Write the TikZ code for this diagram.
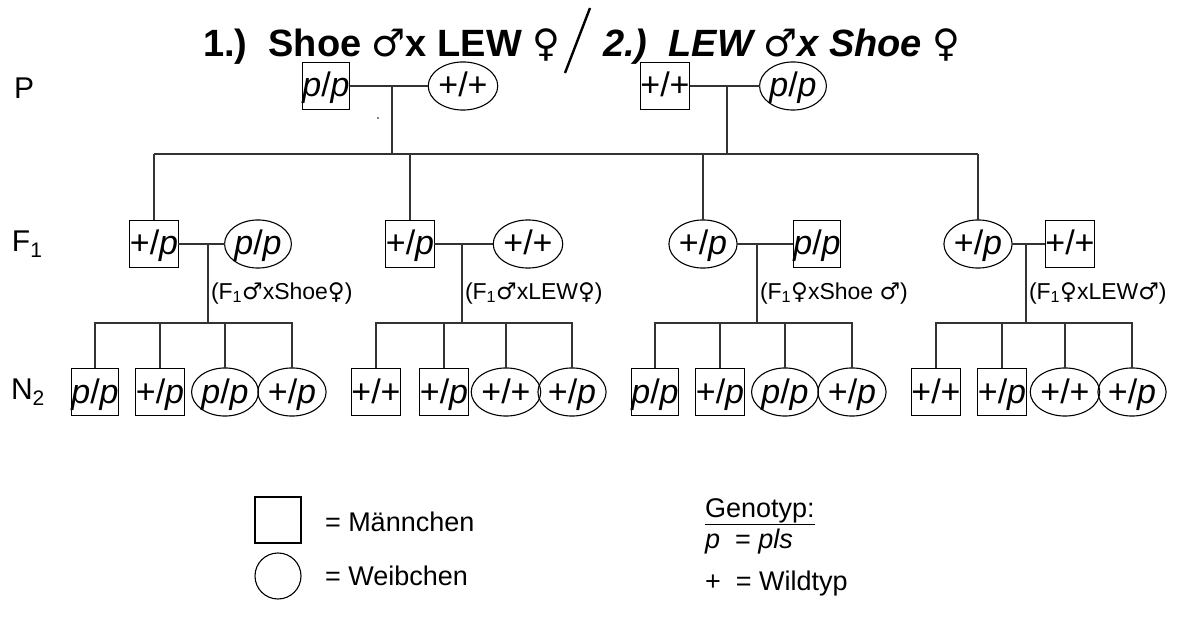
\documentclass[tikz,border=0pt]{standalone}
\usepackage{fontspec}
\setmainfont{Liberation Sans}
\newfontfamily\symfont{DejaVu Sans}
\usetikzlibrary{shapes.geometric}
% sex symbols and genotype shorthands
\newcommand{\symM}{{\symfont ♂}}
\newcommand{\symF}{{\symfont ♀}}
\newcommand{\gpp}{\textit{p}/\textit{p}}
\newcommand{\gwp}{+/\textit{p}}
\newcommand{\gww}{+/+}
\tikzset{
  every node/.style={inner sep=0pt, outer sep=0pt},
  line/.style={line width=1.2pt, draw=black!80},
  geno/.style={font=\fontsize{34}{34}\selectfont, text height=28pt, text depth=6pt},
  sq/.style={geno, draw, line width=1.1pt, rectangle, minimum width=47pt, minimum height=47pt},
  el/.style={geno, draw, line width=1.1pt, ellipse, minimum width=56pt, minimum height=45pt},
  gen/.style={font=\fontsize{30}{30}\selectfont, anchor=west},
  cross/.style={font=\fontsize{23}{23}\selectfont, anchor=west},
  legend/.style={font=\fontsize{27}{27}\selectfont, anchor=west},
}
\begin{document}
\begin{tikzpicture}[x=1pt, y=-1pt]
\useasboundingbox (0,0) rectangle (1186,617);

% title
\node[anchor=base west, font=\fontsize{38}{38}\selectfont\bfseries] (t1) at (203,57) {1.)\ \ Shoe \symM x LEW \symF};
\coordinate (slA) at (565,73);
\coordinate (slB) at (590,8);
\draw[line width=2.4pt] (slA) -- (slB);
\node[anchor=base west, font=\fontsize{38}{38}\selectfont\bfseries\itshape] (t2) at (603,57) {2.)\ \ LEW \symM x Shoe \symF};

% generation labels
\node[gen] (lP) at (14,88) {P};
\node[gen] (lF) at (12,244) {F\textsubscript{1}};
\node[gen] (lN) at (11,392) {N\textsubscript{2}};

% parents
\node[sq] (p1m) at (326,86) {\gpp};
\node[el, minimum width=58pt] (p1f) at (463,86) {\gww};
\node[sq] (p2m) at (665,86) {\gww};
\node[el] (p2f) at (793,86) {\gpp};
\coordinate (j1) at (392,86);
\coordinate (j2) at (727,86);
\draw[line] (p1m) -- (p1f);
\draw[line] (p2m) -- (p2f);
\fill (378,118) circle (0.9pt);

% F1 sibship line
\coordinate (fL) at (154,154);
\coordinate (fR) at (978,154);
\draw[line] (fL) -- (fR);
\draw[line] (j1) -- (j1 |- fL);
\draw[line] (j2) -- (j2 |- fL);

% F1 generation
\node[sq] (f1a) at (154,244) {\gwp};
\node[el] (f1b) at (258,244) {\gpp};
\node[sq] (f2a) at (410,244) {\gwp};
\node[el] (f2b) at (528,244) {\gww};
\node[el] (f3a) at (703,244) {\gwp};
\node[sq] (f3b) at (817,244) {\gpp};
\node[el] (f4a) at (978,244) {\gwp};
\node[sq] (f4b) at (1070,244) {\gww};
\foreach \n in {f1a,f2a,f3a,f4a} \draw[line] (\n.north) -- (\n.north |- fL);
\draw[line] (f1a) -- (f1b);
\draw[line] (f2a) -- (f2b);
\draw[line] (f3a) -- (f3b);
\draw[line] (f4a) -- (f4b);

% F1 crosses
\coordinate (k1) at (208,244);
\coordinate (k2) at (462,244);
\coordinate (k3) at (757,244);
\coordinate (k4) at (1026,244);
\node[cross] (c1) at (211,293) {(F\textsubscript{1}\symM xShoe\symF)};
\node[cross] (c2) at (465,293) {(F\textsubscript{1}\symM xLEW\symF)};
\node[cross] (c3) at (760,293) {(F\textsubscript{1}\symF xShoe \symM)};
\node[cross] (c4) at (1029,293) {(F\textsubscript{1}\symF xLEW\symM)};

% N2 generation
\node[sq] (n1a) at (95,392) {\gpp};
\node[sq] (n1b) at (160,392) {\gwp};
\node[el] (n1c) at (225,392) {\gpp};
\node[el] (n1d) at (292,392) {\gwp};
\node[sq] (n2a) at (376,392) {\gww};
\node[sq] (n2b) at (444,392) {\gwp};
\node[el] (n2c) at (506,392) {\gww};
\node[el] (n2d) at (572,392) {\gwp};
\node[sq] (n3a) at (655,392) {\gpp};
\node[sq] (n3b) at (720,392) {\gwp};
\node[el] (n3c) at (785,392) {\gpp};
\node[el] (n3d) at (852,392) {\gwp};
\node[sq] (n4a) at (936,392) {\gww};
\node[sq] (n4b) at (1002,392) {\gwp};
\node[el] (n4c) at (1065,392) {\gww};
\node[el] (n4d) at (1132,392) {\gwp};

% N2 sibship lines, each hanging from its F1 cross
\foreach \g/\k in {1/k1,2/k2,3/k3,4/k4}{
  \coordinate (s\g) at ([yshift=45.5pt]n\g a.north);
  \draw[line] (n\g a.north) -- (s\g) -- (s\g -| n\g d.north) -- (n\g d.north);
  \draw[line] (n\g b.north) -- (n\g b.north |- s\g);
  \draw[line] (n\g c.north) -- (n\g c.north |- s\g);
  \draw[line] (\k) -- (\k |- s\g);
}

% legend
\node[draw, line width=1.1pt, minimum size=46pt] (lm) at (278,520) {};
\node[draw, line width=1.1pt, circle, minimum size=46pt] (lf) at (278,576) {};
\node[legend] (tm) at (325,522) {= Männchen};
\node[legend] (tf) at (325,576) {= Weibchen};
\node[legend, anchor=base west] (tg) at (705,517) {\underline{Genotyp:}};
\node[legend, anchor=base west] (tp) at (705,548) {\textit{p}\ \ = \textit{pls}};
\node[legend, anchor=base west] (tw) at (705,590) {+\ \ = Wildtyp};
\end{tikzpicture}
\end{document}
